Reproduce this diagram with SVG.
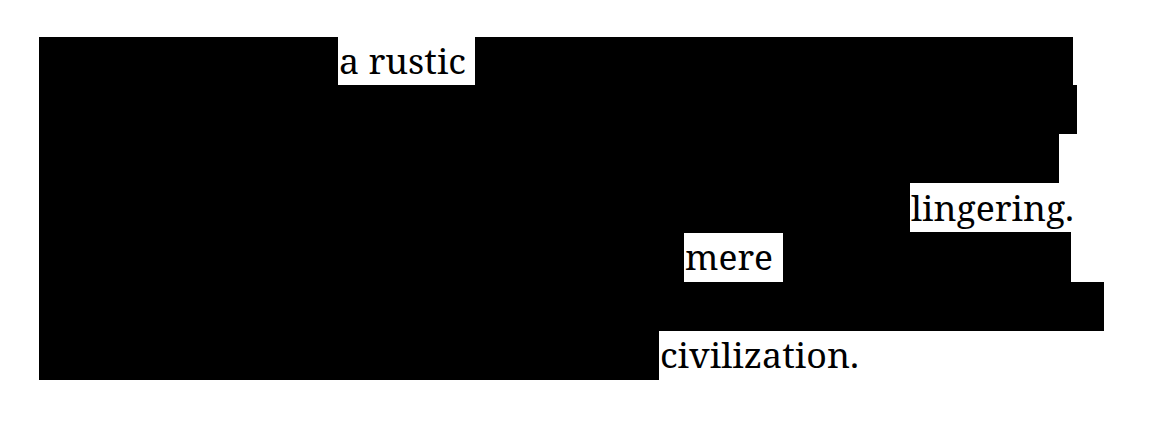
<svg xmlns="http://www.w3.org/2000/svg" width="1170" height="424" viewBox="0 0 1170 424">
<style>rect{fill:#000}text{font-family:"Noto Serif","DejaVu Serif",serif;font-size:34px;fill:#000}</style>
<rect x="0" y="0" width="1170" height="424" style="fill:#fff"/>
<g id="blackout">
<rect x="39" y="37" width="299" height="49"/>
<rect x="475" y="37" width="598" height="49"/>
<rect x="39" y="85" width="1038" height="49"/>
<rect x="39" y="133" width="1020" height="50"/>
<rect x="39" y="182" width="871" height="51"/>
<rect x="39" y="232" width="645" height="51"/>
<rect x="783" y="232" width="288" height="51"/>
<rect x="39" y="282" width="1065" height="49"/>
<rect x="39" y="330" width="620" height="50"/>
</g>
<g id="words">
<text x="339" y="74" textLength="127" lengthAdjust="spacingAndGlyphs">a rustic</text>
<text x="911" y="221" textLength="163" lengthAdjust="spacingAndGlyphs">lingering.</text>
<text x="685" y="270" textLength="88" lengthAdjust="spacingAndGlyphs">mere</text>
<text x="660" y="368" textLength="199" lengthAdjust="spacingAndGlyphs">civilization.</text>
</g>
</svg>
